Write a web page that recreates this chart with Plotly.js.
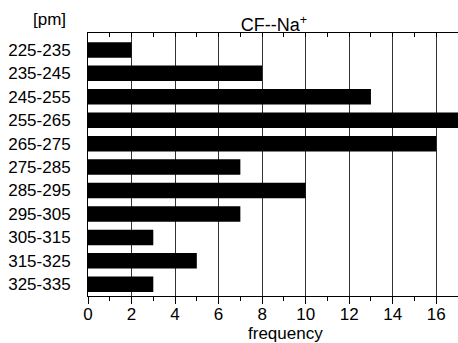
<!DOCTYPE html>
<html><head><meta charset="utf-8">
<script src="https://cdn.plot.ly/plotly-3.0.1.min.js"></script>
<style>html,body{margin:0;padding:0;background:#fff}#c{width:458px;height:343px}</style>
</head><body><div id="c"></div>
<script>
var categories = ["225-235","235-245","245-255","255-265","265-275","275-285","285-295","295-305","305-315","315-325","325-335"];
var frequency = [2, 8, 13, 17, 16, 7, 10, 7, 3, 5, 3];
var xTicks = [0,2,4,6,8,10,12,14,16];

var font = {family: "Liberation Sans, Arial, sans-serif", color: "#000", size: 17};

var data = [{
  type: "bar", orientation: "h",
  x: frequency, y: categories,
  marker: {color: "#000", line: {width: 0}},
  hoverinfo: "none"
}, {
  type: "scatter", x: [0], y: [categories[0]], xaxis: "x2", yaxis: "y",
  mode: "markers", marker: {opacity: 0}, showlegend: false, hoverinfo: "none"
}];

var layout = {
  width: 458, height: 343,
  margin: {l: 88, r: 0, t: 33, b: 47},
  paper_bgcolor: "#fff", plot_bgcolor: "#fff",
  showlegend: false, bargap: 0.34,
  font: font,
  title: {text: "CF--Na<sup>+</sup>", font: {family: font.family, size: 18, color: "#000"},
          x: 0.598, xanchor: "center", y: 1 - 25/343, yanchor: "middle", yref: "container"},
  xaxis: {
    range: [0, 17], tickvals: xTicks, ticktext: xTicks.map(String),
    showgrid: true, gridcolor: "#333", gridwidth: 1,
    showline: true, linecolor: "#000", linewidth: 1,
    ticks: "outside", ticklen: 7, tickwidth: 1, tickcolor: "#000",
    ticklabelstandoff: -4,
    minor: {dtick: 1, tick0: 1, ticks: "outside", ticklen: 4, tickcolor: "#000", showgrid: false},
    tickfont: {family: font.family, size: 17, color: "#000"},
    zeroline: false, fixedrange: true
  },
  xaxis2: {
    overlaying: "x", side: "top", matches: "x", range: [0, 17],
    tickvals: xTicks, showticklabels: false, showgrid: false,
    showline: true, linecolor: "#000", linewidth: 1,
    ticks: "inside", ticklen: 4, tickcolor: "#000",
    minor: {dtick: 1, tick0: 1, ticks: "inside", ticklen: 4, tickcolor: "#000", showgrid: false},
    zeroline: false
  },
  yaxis: {
    type: "category", autorange: "reversed",
    showline: true, linecolor: "#000", linewidth: 1,
    showgrid: false, ticks: "", ticklabelstandoff: 13,
    tickfont: {family: font.family, size: 17, color: "#000"},
    zeroline: false, fixedrange: true
  },
  annotations: [
    {text: "[pm]", xref: "paper", yref: "paper", x: (49-88)/370, y: (296-20)/263,
     xanchor: "center", yanchor: "middle", showarrow: false, font: {family: font.family, size: 17, color: "#000"}},
    {text: "frequency", xref: "paper", yref: "paper", x: (285-88)/370, y: (296-333)/263,
     xanchor: "center", yanchor: "middle", showarrow: false, font: {family: font.family, size: 17, color: "#000"}}
  ]
};

Plotly.newPlot("c", data, layout, {staticPlot: true, displayModeBar: false});
</script></body></html>
